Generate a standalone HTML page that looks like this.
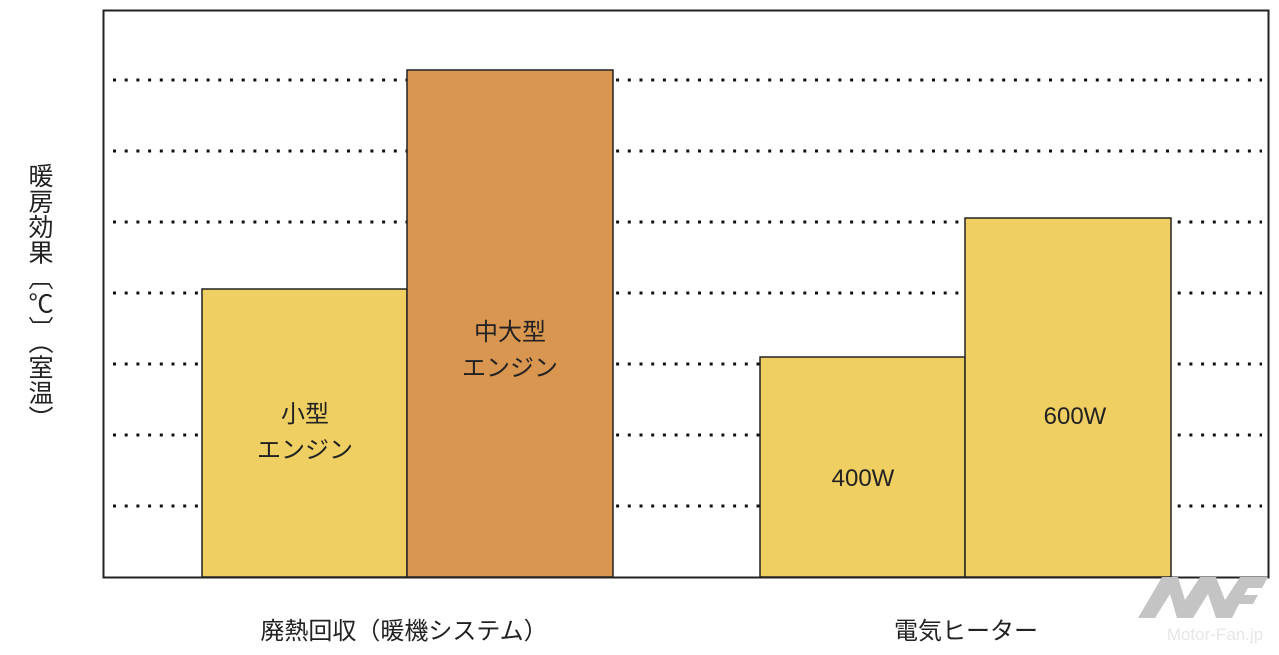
<!DOCTYPE html>
<html><head><meta charset="utf-8"><style>
html,body{margin:0;padding:0;background:#fff;}
body{width:1279px;height:655px;overflow:hidden;position:relative;font-family:"Liberation Sans","Noto Sans CJK JP",sans-serif;}
.yl{position:absolute;left:25px;top:163px;writing-mode:vertical-rl;font-size:25px;line-height:27px;color:#222;letter-spacing:0.5px;}
</style></head><body>
<svg width="1279" height="655" style="position:absolute;left:0;top:0">
<g stroke="#111" stroke-width="3" stroke-dasharray="3 8.7">
<line x1="113" y1="80" x2="1262" y2="80"/>
<line x1="113" y1="151" x2="1262" y2="151"/>
<line x1="113" y1="222" x2="1262" y2="222"/>
<line x1="113" y1="293" x2="1262" y2="293"/>
<line x1="113" y1="364" x2="1262" y2="364"/>
<line x1="113" y1="435" x2="1262" y2="435"/>
<line x1="113" y1="506" x2="1262" y2="506"/>
</g>
<g stroke="#222" stroke-width="1.5">
<rect x="202" y="289" width="205" height="288" fill="#efcf62"/>
<rect x="407" y="70" width="206" height="507" fill="#d89650"/>
<rect x="760" y="357" width="205" height="220" fill="#efcf62"/>
<rect x="965" y="218" width="206" height="359" fill="#efcf62"/>
</g>
<rect x="103.5" y="10.5" width="1165" height="567" fill="none" stroke="#222" stroke-width="2"/>
<g font-family="Liberation Sans, Noto Sans CJK JP, sans-serif" fill="#222" font-size="24" text-anchor="middle">
<text x="305" y="422">小型</text>
<text x="305" y="458">エンジン</text>
<text x="510" y="340">中大型</text>
<text x="510" y="376">エンジン</text>
<text x="863" y="486">400W</text>
<text x="1075" y="424">600W</text>
<text x="404" y="639">廃熱回収（暖機システム）</text>
<text x="966" y="639">電気ヒーター</text>
</g>
<g fill="#c4c4c4">
<polygon points="1138,618 1162,577 1178,577 1185,600 1200,577 1216,577 1225,600 1240,577 1268,577 1262,588 1248,588 1244,595 1258,595 1253,604 1239,604 1232,618 1216,618 1208,594 1193,618 1177,618 1170,594 1155,618"/>
<text x="1215" y="640" font-size="17" text-anchor="middle" font-family="Liberation Sans, sans-serif" fill="#e6e6e6">Motor-Fan.jp</text>
</g>
</svg>
<div class="yl">暖房効果〔℃〕（室温）</div>
</body></html>
